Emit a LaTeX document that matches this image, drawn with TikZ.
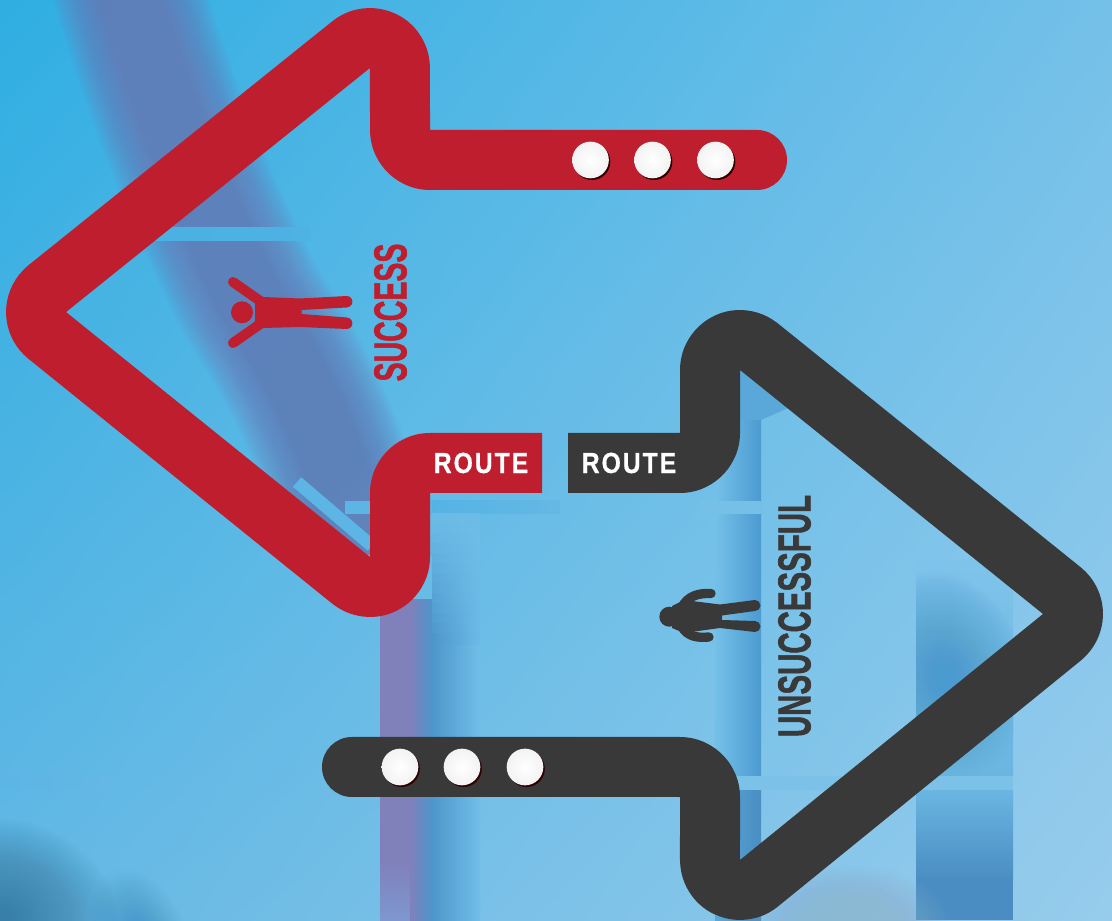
\documentclass[tikz,border=0pt]{standalone}
\usepackage{graphicx}
\usepackage{fontspec}
\usetikzlibrary{shadings}
\setmainfont{Liberation Sans}
\newfontfamily\sidefont[FakeBold=1.6]{Liberation Sans Bold}
\newfontfamily\routefont[FakeBold=0.6,LetterSpace=8]{Liberation Sans Bold}
\definecolor{routeRed}{HTML}{BE1E2D}
\definecolor{routeGrey}{HTML}{393939}
\definecolor{bgA}{HTML}{2FAEE2}
\definecolor{bgB}{HTML}{64B8E4}
\definecolor{bgTR}{HTML}{74C0E9}
\definecolor{bgC}{HTML}{97CCEC}
\definecolor{sliceBg}{HTML}{6BBBE7}
\definecolor{bandPurple}{HTML}{7478B6}
\definecolor{colPurple}{HTML}{8080BA}
\definecolor{colPale}{HTML}{7E97CE}
\definecolor{colBlue}{HTML}{4D96CB}
\definecolor{colLight}{HTML}{6EBCE6}
\definecolor{panelDark}{HTML}{4C9BD0}
\definecolor{panelDeep}{HTML}{4A8DC2}
\definecolor{panelMid}{HTML}{6AB6E1}
\definecolor{cornerDark}{HTML}{37779F}
\definecolor{mist}{HTML}{8FB9D4}
\definecolor{stripeA}{HTML}{4AB1E3}
\definecolor{stripeB}{HTML}{5CB5E5}
\definecolor{stripeC}{HTML}{7CC2E8}
% soft band: many thin-opacity strokes of growing width
\newcommand{\softband}[5]{%
  \foreach \wstep in {1,...,30}{%
    \draw[draw=#1,line width=0.75pt*#2+0.025pt*#3*\wstep,draw opacity=#5,line cap=butt,line join=round] #4;}}
% soft blob: concentric low-opacity ellipses
\newcommand{\softblob}[5]{%
  \foreach \wstep in {1,...,40}{%
    \fill[#1,fill opacity=.03] (#2) ellipse[x radius=#3*\wstep/40,y radius=#4*\wstep/40,rotate=#5];}}
\tikzset{
  arrowstroke/.style={line width=45pt,line cap=butt,line join=round},
  whitedot/.style={circle,draw=none,inner sep=0pt,minimum size=27.5pt,inner color=white,outer color=white!95!black},
  dotshadow/.style={circle,fill=black!70!red!60!black,inner sep=0pt,minimum size=27.5pt},
  sideword/.style={rotate=90,inner sep=0pt,font=\fontsize{34.5pt}{34.5pt}\selectfont\sidefont},
  routeword/.style={inner sep=0pt,text=white,font=\fontsize{21.8pt}{22pt}\selectfont\routefont}
}
\begin{document}
\begin{tikzpicture}[x=0.75pt,y=0.75pt]
\useasboundingbox (0,0) rectangle (1112,920);
\clip (0,0) rectangle (1112,920);
% background gradient
\shade[upper left=bgA,upper right=bgTR,lower left=bgB,lower right=bgC] (0,0) rectangle (1112,920);
\begin{scope}[shift={(0,920)},yscale=-1]
  % purple diagonal band
  \begin{scope}
    \clip (0,0) rectangle (1112,555);
    \softband{bandPurple}{60}{90}{(125,-20) .. controls (160,100) and (200,200) .. (250,300) .. controls (305,385) and (350,470) .. (375,640)}{.043}
  \end{scope}
  % stripes in the upper band
  \shade[left color=stripeA,right color=stripeA!85!bgB] (150,228) rectangle (310,241);
  \draw[stripeB,line width=9.5pt] (297,482) -- (372,546);
  \fill[stripeB] (345,501) rectangle (432,514);
  \shade[left color=stripeA!40!stripeB,right color=bgB] (432,501) rectangle (560,514);
  % central column
  \shade[left color=colPurple,right color=colPurple] (380,600) rectangle (410,920);
  \shade[top color=colPurple,bottom color=colPale] (380,860) rectangle (410,920);
  \shade[left color=colPurple,right color=colBlue] (410,600) rectangle (432,920);
  \shade[left color=colBlue,right color=colLight!50!bgTR] (432,640) rectangle (480,920);
  \foreach \i in {0,...,12}{
    \pgfmathsetmacro{\pcta}{\i*100/12}
    \shade[left color=colBlue!\pcta!sliceBg,right color=sliceBg!\pcta!colLight] (432,514+\i*10) rectangle (480,524.5+\i*10);
  }
  % right columns
  \shade[left color=bgTR,right color=panelDark] (715,400) rectangle (761,776);
  \shade[left color=panelDark!60!colLight,right color=panelDeep] (715,790) rectangle (761,920);
  \fill[panelDark!60!colLight] (740,370) -- (795,405) -- (761,420) -- (740,420) -- cycle;
  % right panel
  \begin{scope}
    \clip (916,560) rectangle (1013,776);
    \shade[top color=bgTR!70!bgC,bottom color=panelMid] (916,560) rectangle (1013,776);
    \softblob{panelDark}{945,675}{80}{105}{-15}
  \end{scope}
  \shade[top color=panelMid,bottom color=panelDeep] (916,790) rectangle (1013,880);
  \fill[panelDeep] (916,880) rectangle (1013,920);
  % lower stripes
  \shade[left color=stripeB,right color=bgB] (0,776) rectangle (118,790);
  \fill[stripeC!60!colLight] (700,501) rectangle (761,514);
  \fill[stripeC] (700,776) rectangle (1013,790);
  % bottom blurs
  \begin{scope}
    \clip (0,790) rectangle (450,920);
    \softblob{cornerDark}{5,915}{115}{95}{15}
    \softblob{panelDark}{140,935}{45}{70}{-25}
  \end{scope}
  \softblob{mist}{850,925}{100}{60}{0}
\end{scope}
% red arrow
\draw[routeRed,arrowstroke]
  (542,457) -- (430,457) arc[start angle=90,end angle=180,radius=30] -- (400,363)
  arc[start angle=360,end angle=231.1,radius=30] -- (47.2,584.6)
  arc[start angle=231.1,end angle=128.75,radius=30] -- (351.2,875.4)
  arc[start angle=128.75,end angle=0,radius=30] -- (400,790)
  arc[start angle=180,end angle=270,radius=30] -- (757,760);
\fill[routeRed] (757,760) circle[radius=30];
% grey arrow
\draw[routeGrey,arrowstroke]
  (568,457) -- (680,457) arc[start angle=270,end angle=360,radius=30] -- (710,550)
  arc[start angle=180,end angle=51.15,radius=30] -- (1061.8,329.4)
  arc[start angle=51.15,end angle=-50.9,radius=30] -- (758.9,36.7)
  arc[start angle=-50.9,end angle=-180,radius=30] -- (710,123)
  arc[start angle=0,end angle=90,radius=30] -- (352,153);
\fill[routeGrey] (352,153) circle[radius=30];
\begin{scope}[shift={(0,920)},yscale=-1]
  % dots
  \foreach \n/\px/\py in {ra/590.5/160,rb/652.5/160,rc/715.5/160,ga/400/767,gb/462/767,gc/525/767}{
    \node[dotshadow] (s\n) at (\px+1.5,\py+1.7) {};
    \node[whitedot] (\n) at (\px,\py) {};
  }
  % text
  \node[sideword,text=routeRed] (success) at (390.5,312.5) {\scalebox{.62}[1]{SUCCESS}};
  \node[sideword,text=routeGrey] (unsuccessful) at (794.5,616) {\scalebox{.64}[1]{UNSUCCESSFUL}};
  \node[routeword] (routeR) at (481,463) {\scalebox{.85}[1]{ROUTE}};
  \node[routeword] (routeG) at (629,463) {\scalebox{.85}[1]{ROUTE}};
  % red person
  \fill[routeRed] (242,312.3) circle[radius=11];
  \draw[routeRed,line width=7.5pt,line cap=round] (233,282) -- (263,303);
  \draw[routeRed,line width=7.5pt,line cap=round] (233,343) -- (263,322);
  \fill[routeRed] (254,292) -- (263,297) -- (300,298.5) -- (346.7,296) -- (346.7,307.5) -- (301.5,310) -- (301.5,314) -- (346.7,317.5) -- (346.7,329) -- (300,327) -- (263,328) -- (254,333) -- (254,325) -- (255,320) -- (255,304) -- cycle;
  \fill[routeRed] (346.7,301.7) circle[radius=5.7] (346.7,323.3) circle[radius=5.7];
  % grey person
  \fill[routeGrey] (669.3,616.7) circle[radius=10];
  \draw[routeGrey,line width=7pt,line cap=round] (682,607) .. controls (688,596) and (698,593) .. (711,593.5);
  \draw[routeGrey,line width=7pt,line cap=round] (682,627) .. controls (688,637) and (698,638) .. (709,637);
  \fill[routeGrey] (672,606) -- (684,600) -- (720,604.5) -- (755,600) -- (755,611) -- (722,615.5) -- (722,620) -- (755,621) -- (755,632) -- (720,628) -- (684,633) -- (672,628) -- cycle;
  \fill[routeGrey] (755,605.5) circle[radius=5.5] (755,626.5) circle[radius=5.5];
\end{scope}
\end{tikzpicture}
\end{document}
